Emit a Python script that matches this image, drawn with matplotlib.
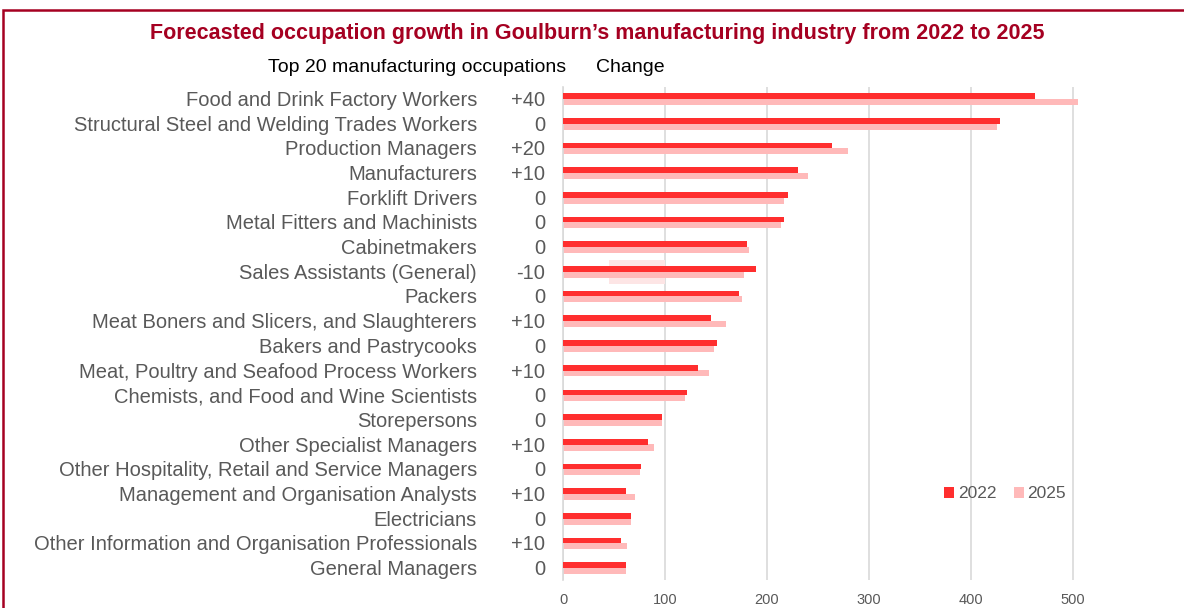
import numpy as np
import matplotlib.pyplot as plt
from matplotlib.patches import Rectangle
from matplotlib.transforms import blended_transform_factory

occupations = [
    "Food and Drink Factory Workers",
    "Structural Steel and Welding Trades Workers",
    "Production Managers",
    "Manufacturers",
    "Forklift Drivers",
    "Metal Fitters and Machinists",
    "Cabinetmakers",
    "Sales Assistants (General)",
    "Packers",
    "Meat Boners and Slicers, and Slaughterers",
    "Bakers and Pastrycooks",
    "Meat, Poultry and Seafood Process Workers",
    "Chemists, and Food and Wine Scientists",
    "Storepersons",
    "Other Specialist Managers",
    "Other Hospitality, Retail and Service Managers",
    "Management and Organisation Analysts",
    "Electricians",
    "Other Information and Organisation Professionals",
    "General Managers",
]
change = ["+40", "0", "+20", "+10", "0", "0", "0", "-10", "0", "+10",
          "0", "+10", "0", "0", "+10", "0", "+10", "0", "+10", "0"]
jobs_2022 = [463, 428, 264, 230, 221, 217, 180, 189, 173, 145,
             151, 132, 122, 97, 83, 76, 62, 67, 57, 62]
jobs_2025 = [505, 425, 279, 240, 217, 214, 182, 177, 175, 160,
             148, 143, 120, 97, 89, 75, 71, 67, 63, 62]
x_ticks = [0, 100, 200, 300, 400, 500]

# faint shaded band sitting behind the Sales Assistants row
band_row = "Sales Assistants (General)"
band_start, band_end = 45, 100

RED = "#FF2E2E"
PINK = "#FFB9B9"
DARK_RED = "#A50021"
GREY = "#595959"

plt.rcParams["font.family"] = ["Liberation Sans", "DejaVu Sans"]

fig = plt.figure(figsize=(11.84, 6.08), dpi=100)
ax = fig.add_axes([563 / 1184, 1 - 580.4 / 608, (1124 - 563) / 1184, (580.4 - 86.6) / 608])

y = np.arange(len(occupations))
h = 0.23

bi = occupations.index(band_row)
ax.barh(bi, band_end - band_start, left=band_start, height=0.95,
        color="#FDE5E5", zorder=1)

ax.barh(y - 0.115, jobs_2022, height=h, color=RED, label="2022", zorder=3)
ax.barh(y + 0.115, jobs_2025, height=h + 0.02, color=PINK, label="2025", zorder=2)

ax.set_xlim(0, 550)
ax.set_ylim(len(occupations) - 0.5, -0.5)
ax.set_xticks(x_ticks)
ax.set_xticklabels([str(t) for t in x_ticks], color=GREY, fontsize=10.5)
ax.tick_params(axis="x", length=0, pad=9)
ax.set_yticks(y)
ax.set_yticklabels([])
ax.tick_params(axis="y", length=0)
ax.grid(axis="x", color="#D9D9D9", linewidth=1.2, zorder=0)
ax.set_axisbelow(True)
for s in ["top", "right", "bottom"]:
    ax.spines[s].set_visible(False)
ax.spines["left"].set_color("#D9D9D9")
ax.spines["left"].set_linewidth(1.2)

# occupation names and the change column: x in figure space, y on the category axis
tr = blended_transform_factory(fig.transFigure, ax.transData)
for i, (name, ch) in enumerate(zip(occupations, change)):
    ax.text(477 / 1184, i + 0.06, name, transform=tr, ha="right", va="center",
            color=GREY, fontsize=14.5)
    ax.text(545 / 1184, i + 0.06, ch, transform=tr, ha="right", va="center",
            color=GREY, fontsize=14.5)

fig.text(597 / 1184, 1 - 33 / 608,
         "Forecasted occupation growth in Goulburn\u2019s manufacturing industry from 2022 to 2025",
         ha="center", va="center", color=DARK_RED, fontsize=15.5, fontweight="bold")
fig.text(268 / 1184, 1 - 67 / 608, "Top 20 manufacturing occupations",
         ha="left", va="center", color="black", fontsize=14)
fig.text(596 / 1184, 1 - 67 / 608, "Change",
         ha="left", va="center", color="black", fontsize=14)

ax.legend(loc="center", bbox_to_anchor=(1005 / 1184, 1 - 494 / 608),
          bbox_transform=fig.transFigure, ncol=2, frameon=False,
          fontsize=12.5, handlelength=0.6, handleheight=0.6, handletextpad=0.2,
          columnspacing=1.0, labelcolor=GREY)

fig.patches.append(Rectangle((3 / 1184, -0.05), 1.1, 1 - 10 / 608 + 0.05,
                             transform=fig.transFigure, fill=False,
                             edgecolor=DARK_RED, linewidth=1.8))

fig.savefig("out.png", dpi=100)
